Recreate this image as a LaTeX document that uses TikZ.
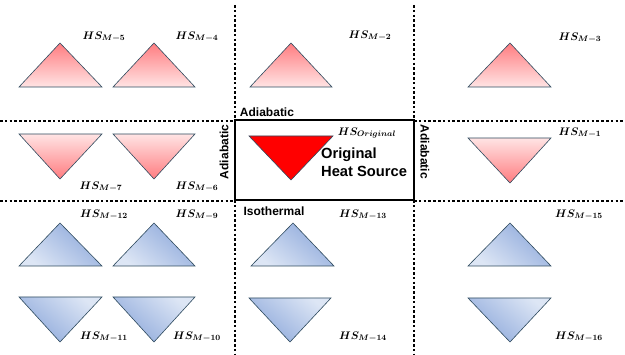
\documentclass[tikz,border=0pt]{standalone}
\usepackage{fontspec}
\setsansfont{Liberation Sans}
\DeclareMathSizes{10.5}{10.5}{8.4}{6}
\definecolor{redd}{HTML}{FF7C80}
\definecolor{redl}{HTML}{FFE4E4}
\definecolor{blued}{HTML}{8EA9DB}
\definecolor{bluel}{HTML}{DDE6F5}
\definecolor{triedge}{HTML}{2E4A5E}
\begin{document}
\begin{tikzpicture}[x=1pt,y=-1pt,
  tri/.style={draw=triedge,line width=0.6pt,line join=miter},
  redup/.style={tri,top color=redd,bottom color=redl},
  reddown/.style={tri,top color=redl,bottom color=redd},
  blueup/.style={tri,top color=blued,bottom color=bluel,shading angle=-40},
  bluedown/.style={tri,top color=bluel,bottom color=blued,shading angle=-40},
  dotline/.style={line width=2.6pt,dash pattern=on 2.6pt off 2.2pt},
  lab/.style={font=\fontsize{10.5}{12}\selectfont\boldmath,inner sep=0pt},
  sanslab/.style={font=\sffamily\bfseries\fontsize{12}{14}\selectfont,inner sep=0pt}]
\useasboundingbox (0,0) rectangle (625,355);
% dotted separators
\draw[dotline] (0,121) -- (235,121);
\draw[dotline] (414,121) -- (625,121);
\draw[dotline] (0,201) -- (235,201);
\draw[dotline] (414,201) -- (625,201);
\draw[dotline] (235,5) -- (235,120);
\draw[dotline] (235,200) -- (235,355);
\draw[dotline] (414,5) -- (414,120);
\draw[dotline] (414,200) -- (414,355);
% box
\draw[line width=2.8pt] (235,120) rectangle (414,200);
% top row
\path[redup] (19,87) -- (60,43) -- (102,87) -- cycle;
\path[redup] (113,87) -- (154,43) -- (195,87) -- cycle;
\path[redup] (250,87) -- (291,43) -- (332,87) -- cycle;
\path[redup] (468,87) -- (510,43) -- (551,87) -- cycle;
% middle row
\path[reddown] (19,134) -- (102,134) -- (60,179) -- cycle;
\path[reddown] (113,134) -- (195,134) -- (154,179) -- cycle;
\path[reddown] (468,138) -- (551,138) -- (510,183) -- cycle;
\path[tri,fill=red] (249,136) -- (333,136) -- (291,180) -- cycle;
% blue rows
\path[blueup] (19,266) -- (60,223) -- (102,266) -- cycle;
\path[blueup] (113,266) -- (154,223) -- (195,266) -- cycle;
\path[blueup] (251,266) -- (293,223) -- (334,266) -- cycle;
\path[blueup] (468,266) -- (510,223) -- (551,266) -- cycle;
\path[bluedown] (19,297) -- (102,297) -- (60,342) -- cycle;
\path[bluedown] (113,297) -- (195,297) -- (154,342) -- cycle;
\path[bluedown] (249,298) -- (331,298) -- (290,342) -- cycle;
\path[bluedown] (468,298) -- (551,298) -- (510,342) -- cycle;
% labels
\node[lab] (l5) at (104,37) {$HS_{M-5}$};
\node[lab] (l4) at (197,37) {$HS_{M-4}$};
\node[lab] (l2) at (370,36) {$HS_{M-2}$};
\node[lab] (l3) at (580,38) {$HS_{M-3}$};
\node[lab] (l7) at (101,187) {$HS_{M-7}$};
\node[lab] (l6) at (197,187) {$HS_{M-6}$};
\node[lab] (l1) at (580,133) {$HS_{M-1}$};
\node[lab] (lo) at (367,133) {$HS_{Original}$};
\node[lab] (l12) at (104,215) {$HS_{M-12}$};
\node[lab] (l9) at (197,215) {$HS_{M-9}$};
\node[lab] (l13) at (363,215) {$HS_{M-13}$};
\node[lab] (l15) at (579,215) {$HS_{M-15}$};
\node[lab] (l11) at (104,337) {$HS_{M-11}$};
\node[lab] (l10) at (197,337) {$HS_{M-10}$};
\node[lab] (l14) at (363,337) {$HS_{M-14}$};
\node[lab] (l16) at (579,337) {$HS_{M-16}$};
% boundary texts
\node[sanslab] (adt) at (267,112) {Adiabatic};
\node[sanslab,rotate=90] (adl) at (224,152) {Adiabatic};
\node[sanslab,rotate=-90] (adr) at (425,152) {Adiabatic};
\node[sanslab] (iso) at (274,211) {Isothermal};
\node[sanslab,anchor=west,align=left,font=\sffamily\bfseries\fontsize{14.7}{17.5}\selectfont] (ohs) at (321,162) {Original\\Heat Source};
\end{tikzpicture}
\end{document}
